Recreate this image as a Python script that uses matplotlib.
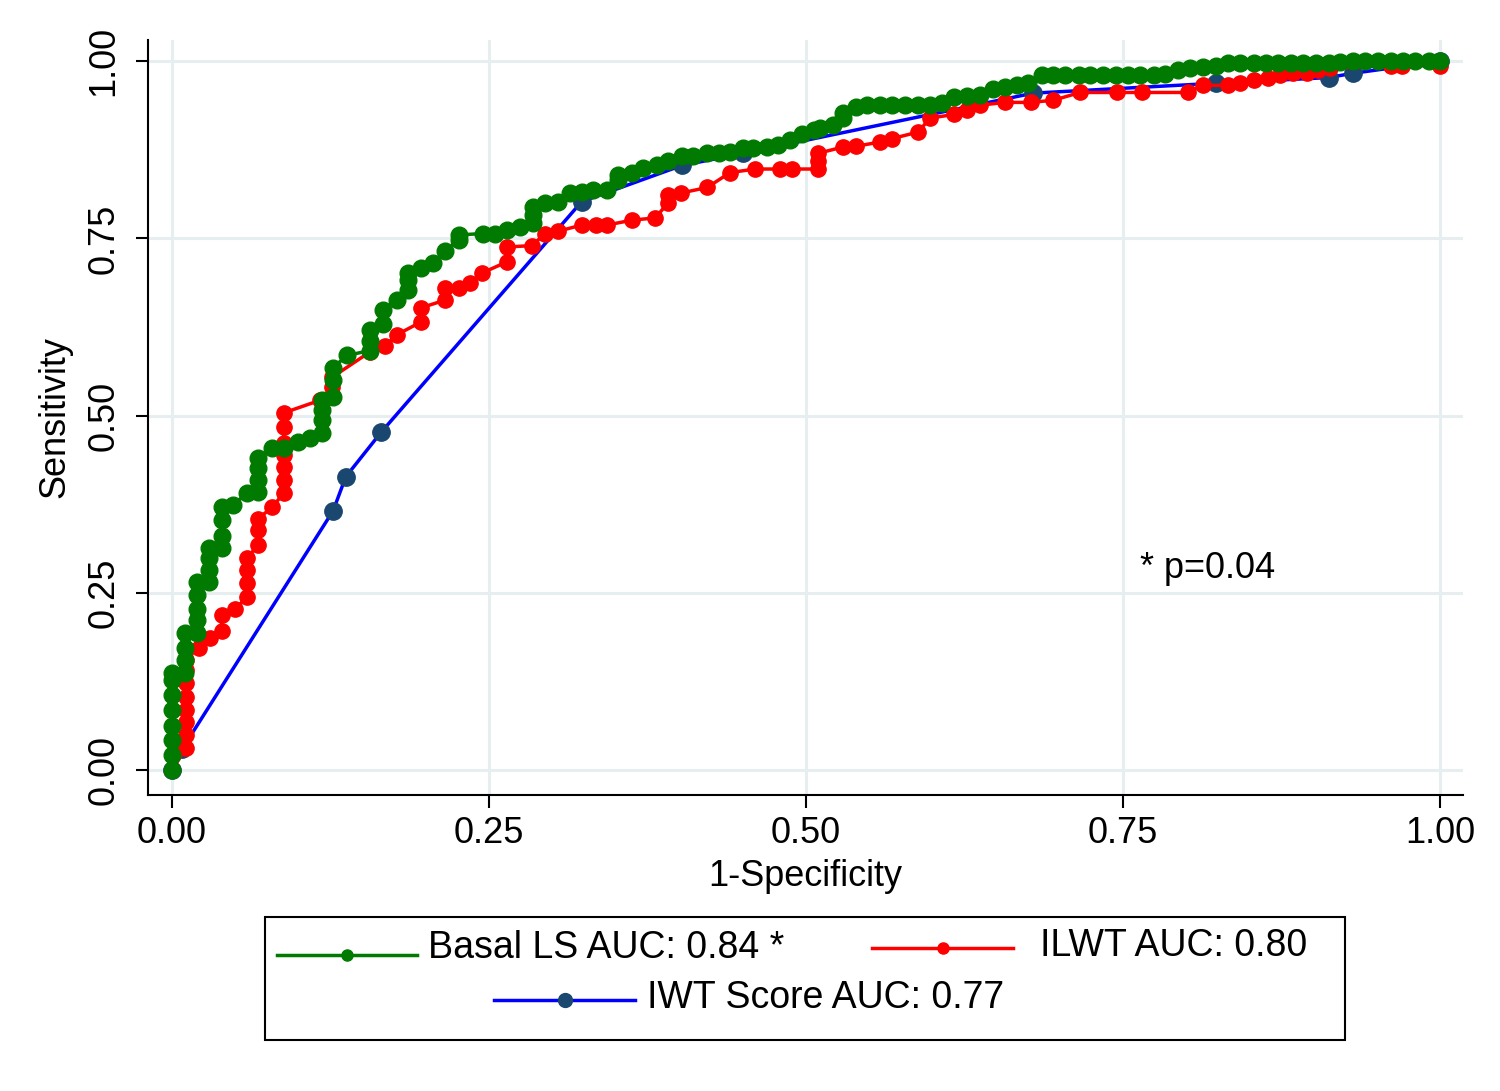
import matplotlib
matplotlib.use('Agg')
import matplotlib.pyplot as plt
from matplotlib.lines import Line2D
from matplotlib.patches import Rectangle

plt.rcParams['font.family'] = ['Liberation Sans', 'DejaVu Sans']

# Basal LS (green) - ROC points
basal_fpr = [0.000, 0.000, 0.000, 0.000, 0.000, 0.000, 0.000, 0.000,
             0.010, 0.010, 0.010, 0.010,
             0.020, 0.020, 0.020, 0.020, 0.020,
             0.029, 0.029, 0.029, 0.029,
             0.039, 0.039, 0.039, 0.039,
             0.048, 0.059, 0.068, 0.068, 0.068, 0.068,
             0.079, 0.088, 0.099, 0.109, 0.118, 0.118, 0.118, 0.118,
             0.127, 0.127, 0.127, 0.138, 0.156, 0.156, 0.156, 0.166, 0.166,
             0.177, 0.186, 0.186, 0.186, 0.196, 0.206, 0.215, 0.226, 0.226,
             0.245, 0.255, 0.264, 0.274, 0.285, 0.285, 0.285, 0.294, 0.304,
             0.314, 0.323, 0.332, 0.343, 0.352, 0.352, 0.363, 0.371, 0.382,
             0.391, 0.402, 0.411, 0.422, 0.431, 0.440, 0.450, 0.458, 0.469,
             0.478, 0.487, 0.497, 0.506, 0.511, 0.521, 0.529, 0.529, 0.539,
             0.548, 0.558, 0.568, 0.578, 0.588, 0.598, 0.607, 0.617, 0.627,
             0.637, 0.647, 0.657, 0.666, 0.675, 0.686, 0.695, 0.704, 0.715,
             0.724, 0.734, 0.744, 0.754, 0.763, 0.774, 0.783, 0.793, 0.803,
             0.813, 0.823, 0.833, 0.842, 0.853, 0.863, 0.872, 0.882, 0.892,
             0.902, 0.912, 0.921, 0.931, 0.941, 0.951, 0.961, 0.971, 0.980,
             0.991, 1.000]
basal_tpr = [0.000, 0.021, 0.042, 0.063, 0.085, 0.106, 0.127, 0.137,
             0.137, 0.155, 0.173, 0.193,
             0.193, 0.212, 0.228, 0.247, 0.265,
             0.265, 0.282, 0.299, 0.313,
             0.313, 0.331, 0.353, 0.371,
             0.374, 0.391, 0.392, 0.409, 0.426, 0.440,
             0.454, 0.454, 0.463, 0.468, 0.475, 0.494, 0.508, 0.522,
             0.526, 0.550, 0.568, 0.585, 0.592, 0.606, 0.621, 0.630, 0.649,
             0.663, 0.677, 0.691, 0.701, 0.708, 0.715, 0.733, 0.748, 0.755,
             0.757, 0.757, 0.762, 0.766, 0.772, 0.783, 0.794, 0.800, 0.801,
             0.814, 0.815, 0.818, 0.819, 0.832, 0.839, 0.842, 0.849, 0.853,
             0.860, 0.867, 0.867, 0.870, 0.870, 0.872, 0.877, 0.877, 0.879,
             0.882, 0.889, 0.897, 0.903, 0.906, 0.910, 0.920, 0.927, 0.935,
             0.938, 0.938, 0.938, 0.938, 0.938, 0.938, 0.941, 0.949, 0.951,
             0.952, 0.961, 0.963, 0.966, 0.970, 0.980, 0.980, 0.980, 0.980,
             0.980, 0.980, 0.980, 0.980, 0.980, 0.980, 0.982, 0.987, 0.990,
             0.992, 0.994, 0.997, 0.997, 0.997, 0.997, 0.997, 0.997, 0.997,
             0.997, 0.997, 0.999, 1.000, 1.000, 1.000, 1.000, 1.000, 1.000,
             1.000, 1.000]

# ILWT (red)
ilwt_fpr = [0.000, 0.011, 0.011, 0.011, 0.011, 0.011, 0.011, 0.011, 0.011, 0.011,
            0.021, 0.030, 0.039, 0.039, 0.050, 0.059, 0.059, 0.059, 0.059,
            0.068, 0.068, 0.068, 0.079, 0.088, 0.088, 0.088, 0.088, 0.088,
            0.088, 0.088, 0.117, 0.126, 0.126, 0.156, 0.168, 0.177, 0.196,
            0.196, 0.215, 0.215, 0.226, 0.235, 0.244, 0.264, 0.264, 0.284,
            0.294, 0.304, 0.323, 0.334, 0.343, 0.363, 0.381, 0.391, 0.391,
            0.401, 0.422, 0.440, 0.460, 0.479, 0.489, 0.509, 0.509, 0.509,
            0.529, 0.539, 0.558, 0.568, 0.588, 0.598, 0.617, 0.627, 0.637,
            0.657, 0.677, 0.695, 0.716, 0.745, 0.765, 0.801, 0.813, 0.833,
            0.842, 0.853, 0.864, 0.874, 0.884, 0.895, 0.904, 0.913, 0.961,
            0.970, 1.000, 1.000]
ilwt_tpr = [0.000, 0.032, 0.049, 0.068, 0.085, 0.103, 0.123, 0.141, 0.155, 0.169,
            0.172, 0.186, 0.197, 0.219, 0.228, 0.244, 0.264, 0.282, 0.300,
            0.317, 0.339, 0.355, 0.371, 0.391, 0.409, 0.427, 0.444, 0.461,
            0.484, 0.504, 0.522, 0.540, 0.554, 0.590, 0.598, 0.614, 0.632,
            0.652, 0.663, 0.680, 0.680, 0.687, 0.701, 0.717, 0.738, 0.740,
            0.757, 0.760, 0.769, 0.769, 0.769, 0.776, 0.779, 0.800, 0.811,
            0.814, 0.822, 0.843, 0.848, 0.848, 0.848, 0.848, 0.860, 0.870,
            0.879, 0.880, 0.886, 0.891, 0.900, 0.920, 0.925, 0.931, 0.938,
            0.942, 0.942, 0.945, 0.956, 0.956, 0.956, 0.956, 0.966, 0.966,
            0.969, 0.973, 0.977, 0.980, 0.983, 0.984, 0.987, 0.990, 0.994,
            0.994, 0.994, 1.000]

# IWT Score (blue line, navy markers)
iwt_fpr = [0.000, 0.008, 0.127, 0.137, 0.165, 0.323, 0.402, 0.450, 0.679,
           0.823, 0.912, 0.931, 1.000]
iwt_tpr = [0.000, 0.030, 0.366, 0.414, 0.477, 0.802, 0.853, 0.870, 0.955,
           0.969, 0.977, 0.983, 1.000]

ticks = [0.0, 0.25, 0.5, 0.75, 1.0]
tick_labels = ['0.00', '0.25', '0.50', '0.75', '1.00']
legend_labels = ['Basal LS AUC: 0.84 *', 'ILWT AUC: 0.80', 'IWT Score AUC: 0.77']

green = '#007a00'
red = '#ff0000'
blue = '#0000ff'
navy = '#1a476f'
grid_col = '#e6eef0'

W, H = 1500, 1091
fig = plt.figure(figsize=(W / 100, H / 100), dpi=100)
ax = fig.add_axes([148 / W, 1 - 795 / H, 1315 / W, 755 / H])

ax.plot(iwt_fpr, iwt_tpr, color=blue, lw=2.5, marker='o', ms=12.5,
        mfc=navy, mec=navy, zorder=3)
ax.plot(ilwt_fpr, ilwt_tpr, color=red, lw=2.5, marker='o', ms=11,
        mfc=red, mec=red, zorder=4)
ax.plot(basal_fpr, basal_tpr, color=green, lw=2.5, marker='o', ms=12,
        mfc=green, mec=green, zorder=5)

ax.set_xlim(-0.019, 1.018)
ax.set_ylim(-0.035, 1.03)
ax.set_xticks(ticks)
ax.set_xticklabels(tick_labels)
ax.set_yticks(ticks)
ax.set_yticklabels(tick_labels, rotation=90, va='center')
ax.tick_params(axis='both', labelsize=26, length=9, width=1.5, direction='out')
ax.tick_params(axis='x', pad=6)
ax.tick_params(axis='y', pad=10)
ax.grid(True, color=grid_col, lw=2.2, zorder=0)
ax.set_axisbelow(True)
for s in ['top', 'right']:
    ax.spines[s].set_visible(False)
for s in ['left', 'bottom']:
    ax.spines[s].set_linewidth(1.5)

ax.set_xlabel('1-Specificity', fontsize=26, labelpad=6)
ax.set_ylabel('Sensitivity', fontsize=26, labelpad=10)

ax.text(0.763, 0.285, '* p=0.04', fontsize=26, ha='left', va='center')

# legend box drawn by hand (Stata style layout)
def fx(px):
    return px / W

def fy(py):
    return 1 - py / H

fig.add_artist(Rectangle((fx(265), fy(1040)), fx(1345) - fx(265), fy(917) - fy(1040),
                         transform=fig.transFigure, fill=False, ec='black', lw=1.5))

leg = [
    (277, 417, 955, 428, 948, green, green, legend_labels[0]),
    (872, 1013, 948, 1040, 946, red, red, legend_labels[1]),
    (494, 635, 1000, 647, 998, blue, navy, legend_labels[2]),
]
for x0, x1, ly, tx, ty, lc, mc, lab in leg:
    fig.add_artist(Line2D([fx(x0), fx(x1)], [fy(ly), fy(ly)], color=lc, lw=2.5,
                          transform=fig.transFigure))
    fig.add_artist(Line2D([fx((x0 + x1) / 2)], [fy(ly)], marker='o', ms=10 if mc == navy else 8,
                          color=mc, transform=fig.transFigure))
    fig.text(fx(tx), fy(ty), lab, fontsize=27, ha='left', va='center')

fig.savefig('out.png', dpi=100, facecolor='white')
